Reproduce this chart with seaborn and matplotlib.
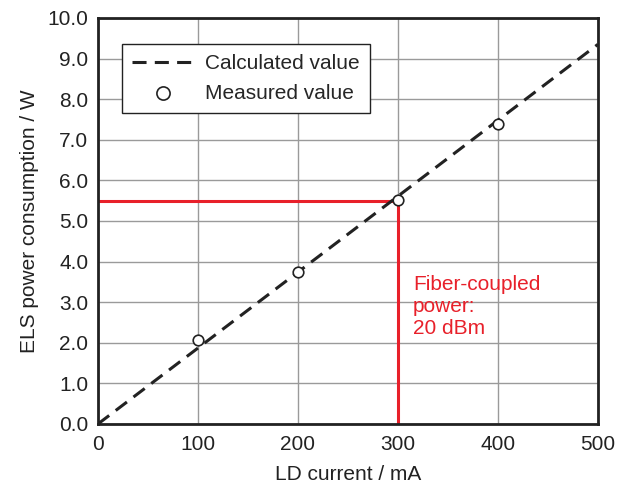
import matplotlib
matplotlib.use("Agg")
import matplotlib.pyplot as plt
import pandas as pd
import seaborn as sns

# calculated line (end points) and measured values
calc_current = [0, 500]
calc_power = [0.0, 9.35]
meas_current = [100, 200, 300, 400]
meas_power = [2.07, 3.75, 5.52, 7.40]

# operating point for 20 dBm fiber-coupled power
op_current = 300
op_power = 5.5

x_ticks = [0, 100, 200, 300, 400, 500]
y_ticks = [0, 1, 2, 3, 4, 5, 6, 7, 8, 9, 10]

sns.set_style("white")
plt.rcParams["font.family"] = ["Liberation Sans", "DejaVu Sans"]
plt.rcParams["font.size"] = 15

fig = plt.figure(figsize=(6.32, 4.93), dpi=100)
ax = fig.add_axes([0.155, 0.14, 0.791, 0.8235])

calc = pd.DataFrame({"current": calc_current, "power": calc_power})
meas = pd.DataFrame({"current": meas_current, "power": meas_power})

ax.grid(True, color="#9a9a9a", linewidth=1.0, zorder=0)
ax.set_axisbelow(True)

# red guide lines
ax.plot([0, op_current], [op_power, op_power], color="#e8202a", lw=2.2, zorder=2)
ax.plot([op_current, op_current], [0, op_power], color="#e8202a", lw=2.2, zorder=2)

sns.lineplot(data=calc, x="current", y="power", ax=ax, color="#222222",
             lw=2.2, dashes=False, label="Calculated value", zorder=3)
ax.lines[-1].set_dashes([4.6, 2.7])
sns.scatterplot(data=meas, x="current", y="power", ax=ax, marker="o", s=58,
                facecolor="white", edgecolor="#222222", linewidth=1.2,
                label="Measured value", zorder=4)

ax.text(op_current + 15, 3.68, "Fiber-coupled\npower:\n20 dBm", color="#e8202a",
        fontsize=15, va="top", ha="left", linespacing=1.22)

ax.set_xlim(0, 500)
ax.set_ylim(0, 10)
ax.set_xticks(x_ticks)
ax.set_yticks(y_ticks)
ax.set_yticklabels([f"{v:.1f}" for v in y_ticks])
ax.tick_params(axis="x", length=0, pad=8, labelsize=15, colors="#222222")
ax.tick_params(axis="y", length=0, pad=7, labelsize=15, colors="#222222")
ax.set_xlabel("LD current / mA", fontsize=15, labelpad=8, color="#222222")
ax.set_ylabel("ELS power consumption / W", fontsize=15, labelpad=6, color="#222222")
for s in ax.spines.values():
    s.set_color("#222222")
    s.set_linewidth(2.0)

leg = ax.legend(loc="upper left", bbox_to_anchor=(0.048, 0.936), fontsize=15,
                frameon=True, fancybox=False, handlelength=2.9, handletextpad=0.6,
                borderpad=0.5, borderaxespad=0, labelspacing=0.5)
leg.get_frame().set_edgecolor("#222222")
leg.get_frame().set_linewidth(1.0)
leg.get_frame().set_alpha(1.0)
leg.legend_handles[1].set_sizes([90])

fig.savefig("out.png", dpi=100)
